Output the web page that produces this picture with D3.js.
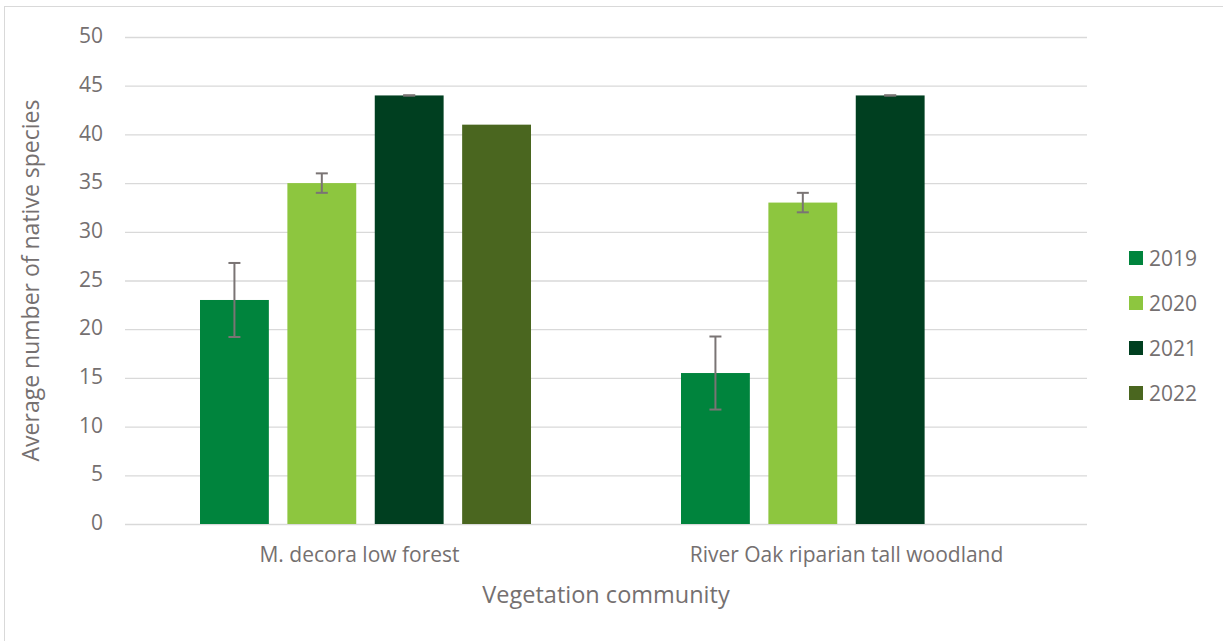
<!DOCTYPE html>
<html><head><meta charset="utf-8">
<script src="https://cdn.jsdelivr.net/npm/d3@7"></script>
<style>body{margin:0;background:#fff;} text{font-family:"Open Sans",sans-serif;fill:#757070;}</style>
</head><body>
<svg id="c" width="1223" height="641"></svg>
<script>
const categories = ["M. decora low forest", "River Oak riparian tall woodland"];
const years = ["2019", "2020", "2021", "2022"];
const values2019 = [23, 15.5];
const values2020 = [35, 33];
const values2021 = [44, 44];
const values2022 = [41, null];
const errors2019 = [3.8, 3.75];
const errors2020 = [1, 1];
const errors2021 = [0, 0];
const errors2022 = [null, null];
const yTicks = [0, 5, 10, 15, 20, 25, 30, 35, 40, 45, 50];
const colors = ["#00843D", "#8DC63F", "#003F20", "#4A661F"];

const seriesVals = [values2019, values2020, values2021, values2022];
const seriesErr = [errors2019, errors2020, errors2021, errors2022];

const svg = d3.select("#c");
// outer frame
svg.append("rect").attr("x", 4.5).attr("y", 6.5).attr("width", 1240).attr("height", 660)
  .attr("fill", "none").attr("stroke", "#d9d9d9").attr("stroke-width", 1);

const L = 125, R = 1087, T = 37, B = 524;
const x0 = d3.scaleBand().domain(categories).range([L, R]).paddingInner(0).paddingOuter(0);
const x1 = d3.scaleBand().domain(years).range([75, 481 - 75]).paddingInner(0.212).paddingOuter(0);
const y = d3.scaleLinear().domain([0, 50]).range([B, T]);

// gridlines
const yAxis = d3.axisLeft(y).tickValues(yTicks).tickSize(-(R - L)).tickPadding(22);
const ga = svg.append("g").attr("transform", `translate(${L},0)`).call(yAxis);
ga.select(".domain").remove();
ga.selectAll(".tick line").attr("stroke", "#d9d9d9").attr("stroke-width", 1.3);
ga.selectAll(".tick text").style("font-size", "21px").style("font-family", "Open Sans").attr("fill", "#757070").attr("dy", "0.27em");

// bars
const data = [];
categories.forEach((c, i) => years.forEach((yr, j) => {
  const v = seriesVals[j][i];
  if (v !== null) data.push({c, yr, j, v, e: seriesErr[j][i]});
}));
svg.append("g").selectAll("rect").data(data).join("rect")
  .attr("x", d => x0(d.c) + x1(d.yr))
  .attr("y", d => y(d.v))
  .attr("width", x1.bandwidth())
  .attr("height", d => y(0) - y(d.v))
  .attr("fill", d => colors[d.j]);

// error bars
const eg = svg.append("g").attr("stroke", "#7a7474").attr("stroke-width", 2);
data.filter(d => d.e !== null).forEach(d => {
  const cx = x0(d.c) + x1(d.yr) + x1.bandwidth() / 2;
  const y1 = y(d.v + d.e), y2 = y(d.v - d.e);
  eg.append("line").attr("x1", cx).attr("x2", cx).attr("y1", y1).attr("y2", y2);
  eg.append("line").attr("x1", cx - 6).attr("x2", cx + 6).attr("y1", y1).attr("y2", y1);
  eg.append("line").attr("x1", cx - 6).attr("x2", cx + 6).attr("y1", y2).attr("y2", y2);
});

// x axis labels
const xAxis = d3.axisBottom(x0).tickSize(0).tickPadding(23);
const gx = svg.append("g").attr("transform", `translate(0,${B})`).call(xAxis);
gx.select(".domain").remove();
gx.selectAll(".tick text").style("font-size", "21px").style("font-family", "Open Sans").attr("fill", "#757070")
  .attr("dx", (d, i) => i === 0 ? -6 : 0);

// axis titles
svg.append("text").attr("x", 606).attr("y", 603).attr("text-anchor", "middle")
  .style("font-size", "23.5px").text("Vegetation community");
svg.append("text").attr("transform", `translate(39,${(T + B) / 2}) rotate(-90)`).attr("text-anchor", "middle")
  .style("font-size", "23px").text("Average number of native species");

// legend
const lg = svg.append("g").attr("transform", "translate(1129,251)");
years.forEach((yr, j) => {
  const g = lg.append("g").attr("transform", `translate(0,${j * 45})`);
  g.append("rect").attr("width", 14).attr("height", 14).attr("fill", colors[j]);
  g.append("text").attr("x", 20).attr("y", 14.5).style("font-size", "21px").text(yr);
});
</script>
</body></html>
